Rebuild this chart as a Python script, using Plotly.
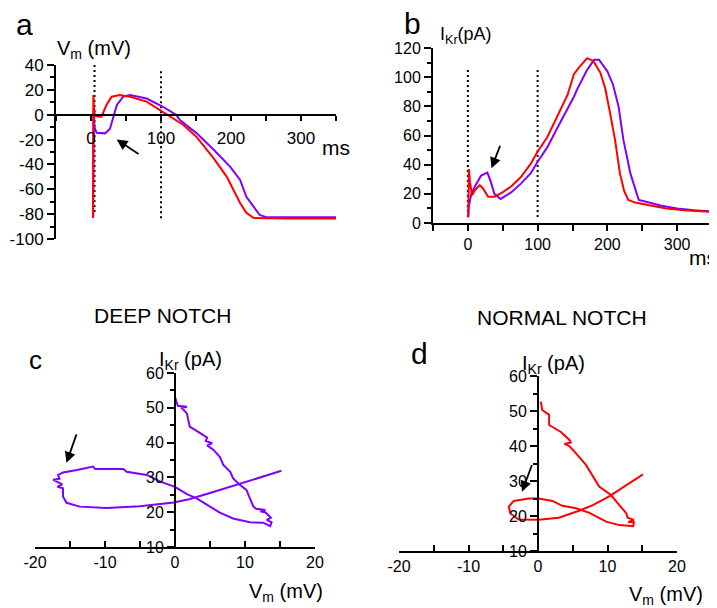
import plotly.graph_objects as go

# The page body keeps the browser's 8 px margin, so the figure is drawn 8 px
# smaller and every layout position is measured from that offset.
WIN_W, WIN_H = 717, 608
OFF = 8
W, H = WIN_W - OFF, WIN_H - OFF
RED = "#FF0000"
PURPLE = "#8000FF"
FONT = "Arial, Liberation Sans, sans-serif"

# ---------------- data ----------------
# Panel a: membrane potential (mV) vs time (ms)
a_t_normal = [3, 3.3, 4.5, 6, 10, 15, 22, 29.5, 41, 56, 79.5, 98.6, 113, 132, 151, 175, 194, 203, 213, 222, 232, 280, 350]
a_v_normal = [-83, 15.8, 3, -1, -1.5, -1.6, 7.8, 14.5, 15.8, 14.5, 10.5, 3.8, -1.6, -8.3, -18, -35, -50, -60.6, -71, -79, -83, -83.5, -83.5]
a_t_deep = [3, 4, 5, 8, 20, 27, 32, 37, 46, 56, 79.5, 103, 122, 127, 151, 175, 199, 213, 222, 232, 241, 251, 300, 350]
a_v_deep = [-83, 5, -10, -14.5, -15, -11.5, -1.6, 7.8, 14.5, 15.8, 13, 6.4, -0.3, -4.3, -15, -28, -42, -52.5, -66, -74, -80.7, -82.6, -82.6, -82.6]

# Panel b: IKr (pA) vs time (ms)
b_t_normal = [0.5, 1.5, 3, 6, 10, 17, 22, 29, 38, 48, 62, 76, 90, 100, 114, 128, 143, 152, 160, 171, 180, 190, 197, 204, 211, 218, 224, 230, 240, 260, 285, 310, 350]
b_i_normal = [4, 37, 28, 19, 22.5, 26, 23.5, 18, 18, 20.5, 25, 31.5, 40.5, 49, 59, 73, 88, 102, 107, 113, 111, 103, 92, 75, 57, 34, 22, 15.8, 14, 12.2, 10, 8.7, 7.5]
b_t_deep = [0.5, 1.5, 5, 10, 19, 28, 33, 38, 47, 62, 76, 90, 100, 114, 128, 133, 143, 152, 157, 171, 181, 188, 200, 208, 216, 223, 233, 245, 257, 276, 300, 324, 350]
b_i_deep = [4, 12, 20, 25, 32.5, 34.5, 28, 20, 16.5, 21, 27, 34, 42, 52, 65, 69.5, 78, 86.6, 92, 105, 112, 112, 104, 95, 80, 57, 34, 15.8, 14.4, 12, 10, 8.7, 8]

# Panel c: deep notch, IKr (pA) vs Vm (mV)
c_vm = [15.2, 9.3, 5.0, 2.0, -0.2, -5.0, -9.8, -13.6, -15.5, -16.0, -16.0, -16.8, -16.1, -17.4, -16.5, -16.7, -16.0, -14.0, -11.7, -11.4,
        -7.4, -6.9, -4.0, -2.1, 0.0, 1.7, 3.1, 5.0, 6.4, 8.3, 10.7, 12.6, 13.6, 13.8, 13.1, 13.7, 12.9, 12.2, 12.9, 11.6,
        11.2, 10.7, 10.2, 9.3, 8.3, 7.9, 6.9, 6.4, 5.5, 4.6, 5.3, 4.4, 4.6, 3.6, 2.1, 1.7, 1.0, 1.7, 0.4, 0.2, 0.0]
c_ikr = [31.9, 28.1, 25.5, 23.7, 22.8, 21.7, 21.2, 21.6, 22.7, 24.5, 26.9, 27.3, 28.0, 29.3, 29.6, 30.7, 31.4, 32.1, 33.1, 32.4,
         32.4, 31.6, 30.7, 28.8, 27.3, 25.2, 24.0, 21.6, 19.9, 18.2, 17.1, 17.0, 16.0, 17.1, 17.8, 18.4, 20.0, 20.2, 20.6, 21.0,
         21.6, 24.0, 26.4, 27.8, 29.7, 31.6, 33.6, 35.9, 37.9, 39.2, 39.8, 40.5, 41.4, 42.7, 44.6, 48.4, 49.9, 50.3, 50.6, 51.8, 53.2]

# Panel d: normal notch, IKr (pA) vs Vm (mV)
d_vm = [15.1, 12.7, 10.3, 7.9, 5.9, 3.0, 0.1, -2.8, -4.0, -4.2, -3.5, -1.3, 0.1, 2.1, 3.5, 5.5, 7.4, 9.8, 11.7, 13.7,
        13.8, 13.0, 13.8, 12.9, 12.7, 11.7, 10.5, 8.8, 7.9, 6.9, 5.7, 4.5, 3.8, 4.7, 4.5, 3.3, 1.6, 1.6, 0.6, 0.4]
d_ikr = [31.9, 28.9, 25.7, 23.1, 21.5, 19.5, 18.9, 19.0, 20.8, 22.7, 24.3, 25.0, 25.0, 24.3, 22.9, 22.2, 20.9, 18.4, 17.4, 17.1,
         18.2, 18.3, 18.9, 19.5, 20.8, 23.1, 26.0, 28.4, 31.2, 34.6, 37.4, 40.0, 40.6, 41.0, 41.8, 44.0, 46.0, 48.9, 50.3, 52.7]

# dotted time markers: (time, top, bottom)
a_markers = [(5, 40, -80), (100, 35, -85)]
b_markers = [(0, 105, 3), (100, 105, 3)]

time_ticks = [0, 100, 200, 300]
vm_ticks_a = [-100, -80, -60, -40, -20, 0, 20, 40]
ikr_ticks_b = [0, 20, 40, 60, 80, 100, 120]
vm_ticks_cd = [-20, -10, 0, 10, 20]
ikr_ticks_cd = [10, 20, 30, 40, 50, 60]


def labels(vals):
    return [str(v) for v in vals]  # plain hyphen-minus, as in the figure

# ---------------- layout helpers (window pixel -> paper) ----------------
def px(x):
    return (x - OFF) / W

def py(y):
    return 1 - (y - OFF) / H

def xdom(p0, p1):
    return [px(p0), px(p1)]

def ydom(top, bottom):
    return [py(bottom), py(top)]

dom_a_x, dom_a_y = xdom(56, 336), ydom(65, 239)
dom_b_x, dom_b_y = xdom(433, 712), ydom(48, 223)
dom_c_x, dom_c_y = xdom(35, 315), ydom(373, 547)
dom_d_x, dom_d_y = xdom(399, 677), ydom(376, 551)

rng_a_x, rng_a_y = [-50, 350], [-100, 40]
rng_b_x, rng_b_y = [-50, 350], [0, 120]
rng_cd_x, rng_cd_y = [-20, 20], [10, 60]

def frac(v, rng, dom):
    return dom[0] + (v - rng[0]) / (rng[1] - rng[0]) * (dom[1] - dom[0])

fig = go.Figure()

def line(x, y, color, xa, ya, width=2, dash=None):
    fig.add_trace(go.Scatter(x=x, y=y, mode="lines", xaxis=xa, yaxis=ya,
                             line=dict(color=color, width=width, dash=dash),
                             showlegend=False, hoverinfo="skip"))

for t, top, bot in a_markers:
    line([t, t], [top, bot], "black", "x", "y", width=2, dash="2px,3px")
for t, top, bot in b_markers:
    line([t, t], [top, bot], "black", "x2", "y2", width=2, dash="2px,3px")

line(a_t_deep, a_v_deep, PURPLE, "x", "y")
line(a_t_normal, a_v_normal, RED, "x", "y")
line(b_t_deep, b_i_deep, PURPLE, "x2", "y2")
line(b_t_normal, b_i_normal, RED, "x2", "y2")
line(c_vm, c_ikr, PURPLE, "x3", "y3")
line(d_vm, d_ikr, RED, "x4", "y4")

base = dict(showline=True, linecolor="black", linewidth=2, showgrid=False, zeroline=False,
            tickcolor="black", tickwidth=1.5, ticks="outside", fixedrange=True, automargin=False,
            tickmode="array", tickfont=dict(family=FONT, size=16, color="black"))

def ax(**kw):
    d = dict(base)
    d.update(kw)
    return d

def minor(dt, ln, ticks="outside"):
    return dict(dtick=dt, tick0=0, ticklen=ln, ticks=ticks, tickcolor="black", tickwidth=1.5)

layout = dict(
    template="none",
    width=W, height=H, autosize=False,
    margin=dict(l=0, r=0, t=0, b=0, pad=0),
    paper_bgcolor="white", plot_bgcolor="white",
    font=dict(family=FONT, color="black"),
    xaxis=ax(domain=dom_a_x, range=rng_a_x, anchor="free",
             position=frac(0, rng_a_y, dom_a_y), tickvals=time_ticks, ticktext=labels(time_ticks), ticklen=5,
             tickfont=dict(family=FONT, size=17, color="black"), ticklabelstandoff=3,
             minor=minor(50, 5)),
    yaxis=ax(domain=dom_a_y, range=rng_a_y, anchor="x", tickvals=vm_ticks_a, ticktext=labels(vm_ticks_a), ticklen=7,
             tickfont=dict(family=FONT, size=17, color="black"), minor=minor(10, 4)),
    xaxis2=ax(domain=dom_b_x, range=rng_b_x, anchor="y2", tickvals=time_ticks, ticktext=labels(time_ticks), ticklen=6,
              minor=minor(50, 6)),
    yaxis2=ax(domain=dom_b_y, range=rng_b_y, anchor="x2", tickvals=ikr_ticks_b, ticktext=labels(ikr_ticks_b), ticklen=7,
              minor=minor(10, 4)),
    xaxis3=ax(domain=dom_c_x, range=rng_cd_x, anchor="y3", tickvals=vm_ticks_cd, ticktext=labels(vm_ticks_cd),
              ticks="inside", ticklen=6, minor=minor(5, 6, "inside")),
    yaxis3=ax(domain=dom_c_y, range=rng_cd_y, anchor="free", position=frac(0, rng_cd_x, dom_c_x),
              tickvals=ikr_ticks_cd, ticktext=labels(ikr_ticks_cd), ticklen=7, minor=minor(5, 4)),
    xaxis4=ax(domain=dom_d_x, range=rng_cd_x, anchor="y4", tickvals=vm_ticks_cd, ticktext=labels(vm_ticks_cd),
              ticks="inside", ticklen=6, minor=minor(5, 6, "inside")),
    yaxis4=ax(domain=dom_d_y, range=rng_cd_y, anchor="free", position=frac(0, rng_cd_x, dom_d_x),
              tickvals=ikr_ticks_cd, ticktext=labels(ikr_ticks_cd), ticklen=7, minor=minor(5, 4)),
)
fig.update_layout(**layout)

def text(s, x, y, size, xanchor="center", yanchor="middle"):
    fig.add_annotation(text=s, x=px(x), y=py(y), xref="paper", yref="paper",
                       xanchor=xanchor, yanchor=yanchor, showarrow=False,
                       font=dict(family=FONT, size=size, color="black"))

text("a", 24, 25, 30)
text("b", 412, 23, 30)
text("c", 35.5, 360, 26)
text("d", 419, 353, 30)
text("DEEP NOTCH", 162, 315, 21)
text("NORMAL NOTCH", 562, 317, 21)
text("V<sub>m</sub> (mV)", 55, 49, 20, xanchor="left")
text("I<sub>Kr</sub>(pA)", 438, 36, 18, xanchor="left")
text("I<sub>Kr</sub> (pA)", 157, 360, 20, xanchor="left")
text("I<sub>Kr</sub> (pA)", 520, 364, 20, xanchor="left")
text("V<sub>m</sub> (mV)", 247, 592, 20, xanchor="left")
text("V<sub>m</sub> (mV)", 627, 595, 20, xanchor="left")
text("ms", 320, 147, 21, xanchor="left")
text("ms", 687, 257, 21, xanchor="left")

def arrow(xa, ya, head, tail):
    fig.add_annotation(x=head[0], y=head[1], ax=tail[0], ay=tail[1], xref=xa, yref=ya,
                       axref=xa, ayref=ya, text="", showarrow=True, arrowhead=2,
                       arrowsize=1.2, arrowwidth=1.8, arrowcolor="black")

arrow("x", "y", (36.7, -19.9), (70, -32.4))
arrow("x2", "y2", (33.8, 37.5), (47, 54))
arrow("x3", "y3", (-15.5, 34.2), (-14, 42.8))
arrow("x4", "y4", (-2.3, 26.9), (-0.8, 35))

fig.write_html("out.html")
